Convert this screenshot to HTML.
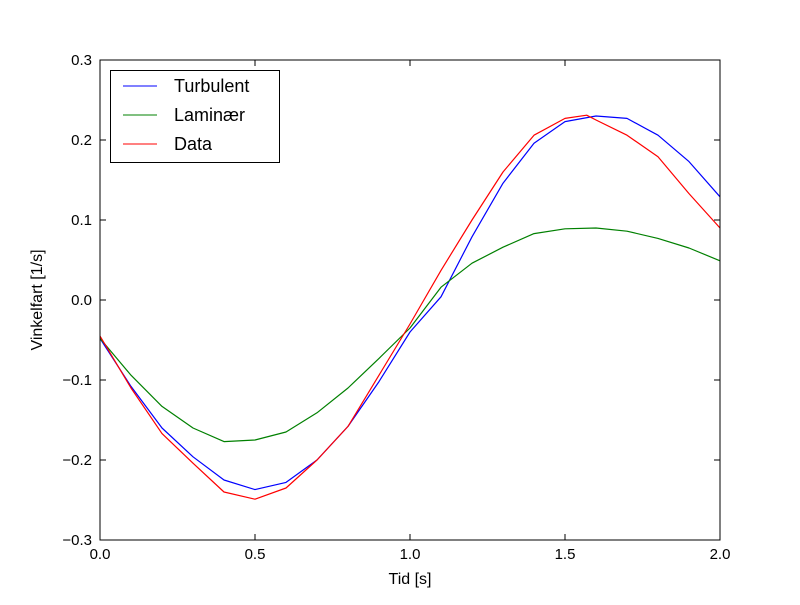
<!DOCTYPE html>
<html><head><meta charset="utf-8"><style>
body{margin:0;background:#fff;}
svg{font-family:"Liberation Sans","DejaVu Sans",sans-serif;}
</style></head><body>
<svg id="chart" width="800" height="600" viewBox="0 0 800 600">
<rect x="0" y="0" width="800" height="600" fill="#fff"/>
<g id="series"></g>
<rect x="100" y="60" width="620" height="480" fill="none" stroke="#000" stroke-width="1"/>
<g id="ticks"></g>
<text x="410" y="584" font-size="16" text-anchor="middle">Tid [s]</text>
<text x="42" y="300" font-size="16" text-anchor="middle" transform="rotate(-90 42 300)">Vinkelfart [1/s]</text>
<g>
<rect x="110.5" y="70.5" width="169" height="92" fill="#fff" stroke="#000"/>
<line x1="123" y1="86" x2="157" y2="86" stroke="#0000ff"/>
<text x="174" y="92" font-size="18">Turbulent</text>
<line x1="123" y1="115" x2="157" y2="115" stroke="#008000"/>
<text x="174" y="121" font-size="18">Laminær</text>
<line x1="123" y1="144" x2="157" y2="144" stroke="#ff0000"/>
<text x="174" y="150" font-size="18">Data</text>
</g>
</svg>
<script>
const xs = [0,0.1,0.2,0.3,0.4,0.5,0.6,0.7,0.8,0.9,1.0,1.1,1.2,1.3,1.4,1.5,1.6,1.7,1.8,1.9,2.0];
const turbulent = [-0.048,-0.108,-0.16,-0.196,-0.225,-0.237,-0.228,-0.2,-0.158,-0.102,-0.04,0.004,0.079,0.146,0.196,0.223,0.23,0.227,0.206,0.173,0.129];
const laminar = [-0.048,-0.094,-0.133,-0.16,-0.177,-0.175,-0.165,-0.141,-0.11,-0.073,-0.035,0.016,0.046,0.066,0.083,0.089,0.09,0.086,0.077,0.065,0.049];
const dataX = [0,0.1,0.2,0.3,0.4,0.5,0.6,0.7,0.8,0.9,1.0,1.1,1.2,1.3,1.4,1.5,1.57,1.6,1.7,1.8,1.9,2.0];
const dataY = [-0.045,-0.11,-0.167,-0.204,-0.24,-0.249,-0.235,-0.2,-0.158,-0.094,-0.03,0.037,0.1,0.16,0.206,0.227,0.231,0.225,0.206,0.179,0.133,0.09];
const xTicks = [0,0.5,1.0,1.5,2.0];
const xTickLabels = ["0.0","0.5","1.0","1.5","2.0"];
const yTicks = [-0.3,-0.2,-0.1,0,0.1,0.2,0.3];
const yTickLabels = ["\u22120.3","\u22120.2","\u22120.1","0.0","0.1","0.2","0.3"];

const NS = "http://www.w3.org/2000/svg";
function sx(v){return 100 + (v-0)/(2-0)*620;}
function sy(v){return 540 - (v+0.3)/0.6*480;}
const sg = document.getElementById('series');
function addLine(X,Y,color,name){
  const p = document.createElementNS(NS,'polyline');
  p.setAttribute('points', X.map((x,i)=>sx(x)+','+sy(Y[i])).join(' '));
  p.setAttribute('fill','none');
  p.setAttribute('stroke',color);
  p.setAttribute('stroke-width','1.2');
  p.setAttribute('stroke-linejoin','round');
  
  
  sg.appendChild(p);
}
addLine(xs,turbulent,'#0000ff','turbulent-line');
addLine(xs,laminar,'#008000','laminaer-line');
addLine(dataX,dataY,'#ff0000','data-line');

const tg = document.getElementById('ticks');
xTicks.forEach((t,i)=>{
  const x = sx(t);
  [[540,-6],[60,6]].forEach(([y0,d])=>{
    const l=document.createElementNS(NS,'line');
    l.setAttribute('x1',x);l.setAttribute('x2',x);l.setAttribute('y1',y0);l.setAttribute('y2',y0+d);
    l.setAttribute('stroke','#000');
    
    
    tg.appendChild(l);
  });
  const tx=document.createElementNS(NS,'text');
  tx.setAttribute('x',x);tx.setAttribute('y',559);tx.setAttribute('font-size','15');tx.setAttribute('text-anchor','middle');
  tx.textContent=xTickLabels[i];
  
  
  tg.appendChild(tx);
});
yTicks.forEach((t,i)=>{
  const y = sy(t);
  [[100,6],[720,-6]].forEach(([x0,d])=>{
    const l=document.createElementNS(NS,'line');
    l.setAttribute('x1',x0);l.setAttribute('x2',x0+d);l.setAttribute('y1',y);l.setAttribute('y2',y);
    l.setAttribute('stroke','#000');
    
    
    tg.appendChild(l);
  });
  const tx=document.createElementNS(NS,'text');
  tx.setAttribute('x',92);tx.setAttribute('y',y+5);tx.setAttribute('font-size','15');tx.setAttribute('text-anchor','end');
  tx.textContent=yTickLabels[i];
  
  
  tg.appendChild(tx);
});
</script>
</body></html>
